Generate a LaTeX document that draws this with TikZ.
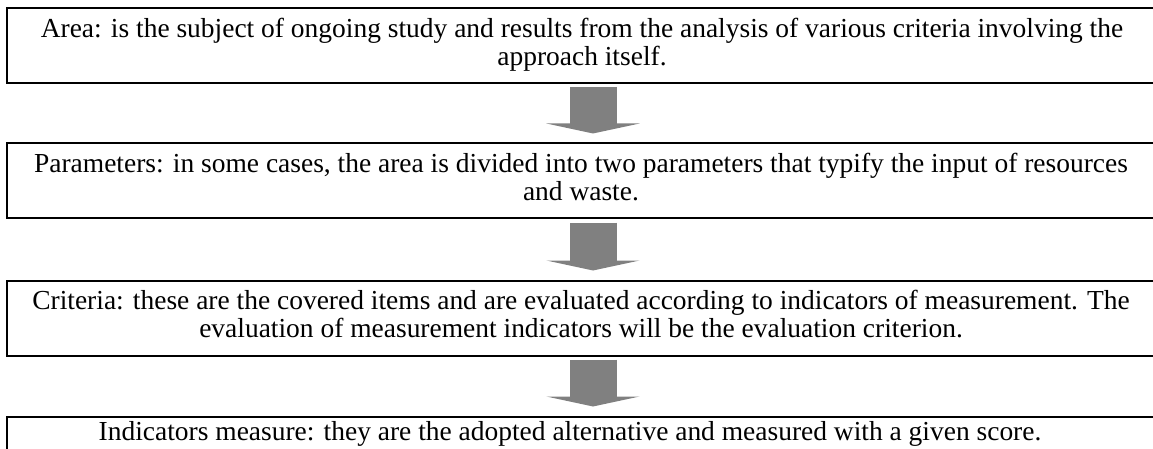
\documentclass[tikz,border=0pt]{standalone}
\usepackage{fontspec}
\setmainfont{Liberation Serif}
\usetikzlibrary{arrows.meta}
\definecolor{flowgray}{HTML}{808080}
\begin{document}
\begin{tikzpicture}[x=0.75pt, y=-0.75pt,
    stage/.style={draw, line width=1.5pt, minimum width=879pt, minimum height=56.25pt, inner sep=0pt},
    stagetext/.style={anchor=north, align=center, inner sep=0pt, font=\fontsize{20.6pt}{21pt}\selectfont},
    flow/.style={line width=35.25pt, draw=flowgray, -{Triangle[width=69.75pt, length=7.5pt]}}]

  % Page
  \useasboundingbox (0,0) rectangle (1153,449);

  % Boxes
  \node[stage] (area) at (593,45.5) {};
  \node[stage] (param) at (593,181) {};
  \node[stage] (crit) at (593,318) {};
  \node[stage] (ind) at (593,454) {};

  % Texts
  \node[stagetext] (areatext) at (582,18.2) {Area: is the subject of ongoing study and results from the analysis of various criteria involving the\\approach itself.};
  \node[stagetext] (paramtext) at (581,153.2) {Parameters: in some cases, the area is divided into two parameters that typify the input of resources\\and waste.};
  \node[stagetext] (crittext) at (581,290.2) {Criteria: these are the covered items and are evaluated according to indicators of measurement. The\\evaluation of measurement indicators will be the evaluation criterion.};
  \node[stagetext] (indtext) at (570,421.5) {Indicators measure: they are the adopted alternative and measured with a given score.};

  % Arrows
  \draw[flow] ([yshift=-2.25pt]area.south) -- ([yshift=6.75pt]param.north);
  \draw[flow] ([yshift=-2.25pt]param.south) -- ([yshift=6.75pt]crit.north);
  \draw[flow] ([yshift=-2.25pt]crit.south) -- ([yshift=6.75pt]ind.north);
\end{tikzpicture}
\end{document}
